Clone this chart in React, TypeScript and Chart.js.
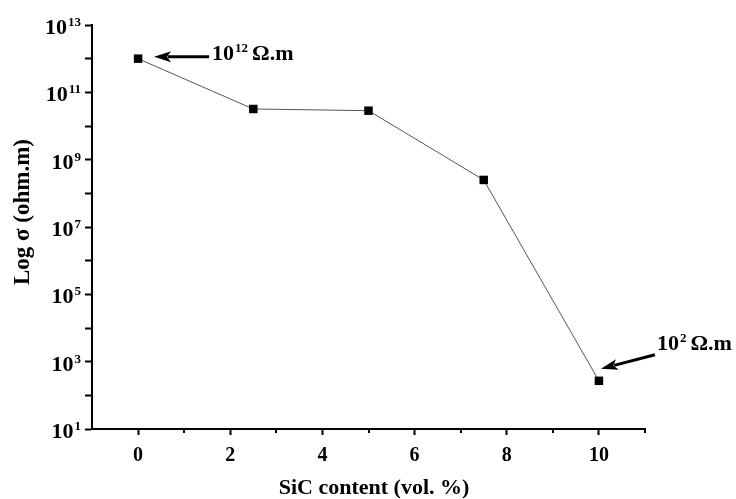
import React, { useEffect, useRef } from 'react';
import { Chart, registerables } from 'chart.js';

Chart.register(...registerables);

const sicContent = [0, 2.5, 5, 7.5, 10];
const resistivity = [1e12, 3.2e10, 2.85e10, 2.5e8, 270];
const xLabelValues = [0, 2, 4, 6, 8, 10];
const xMinorValues = [1, 3, 5, 7, 9, 11];
const yDecadeExponents = [1, 2, 3, 4, 5, 6, 7, 8, 9, 10, 11, 12, 13];
const yLabelExponents = [1, 3, 5, 7, 9, 11, 13];
const xTitle = 'SiC content (vol. %)';
const yTitle = 'Log σ (ohm.m)';
const noteBase = ['10', '10'];
const noteExp = ['12', '2'];
const noteUnit = ['Ω.m', 'Ω.m'];
const notePoint = [0, 4];

const FONT = '"Liberation Serif", "Times New Roman", serif';

function drawArrow(ctx: CanvasRenderingContext2D, x1: number, y1: number, x2: number, y2: number) {
  const ang = Math.atan2(y2 - y1, x2 - x1);
  const headLen = 17;
  const headW = 5.5;
  const cos = Math.cos(ang);
  const sin = Math.sin(ang);
  ctx.save();
  ctx.strokeStyle = '#000';
  ctx.fillStyle = '#000';
  ctx.lineWidth = 3;
  ctx.beginPath();
  ctx.moveTo(x1, y1);
  ctx.lineTo(x2 - cos * headLen * 0.8, y2 - sin * headLen * 0.8);
  ctx.stroke();
  const bx = x2 - cos * headLen;
  const by = y2 - sin * headLen;
  const nx = x2 - cos * headLen * 0.75;
  const ny = y2 - sin * headLen * 0.75;
  ctx.beginPath();
  ctx.moveTo(x2, y2);
  ctx.lineTo(bx - sin * headW, by + cos * headW);
  ctx.lineTo(nx, ny);
  ctx.lineTo(bx + sin * headW, by - cos * headW);
  ctx.closePath();
  ctx.fill();
  ctx.restore();
}

const overlay = {
  id: 'overlay',
  afterDraw(chart: any) {
    const ctx: CanvasRenderingContext2D = chart.ctx;
    const xs = chart.scales.x;
    const ys = chart.scales.y;
    const area = chart.chartArea;
    ctx.save();
    ctx.fillStyle = '#000';
    ctx.strokeStyle = '#000';

    // minor x ticks
    ctx.lineWidth = 2;
    for (const v of xMinorValues) {
      const px = Math.round(xs.getPixelForValue(v));
      ctx.beginPath();
      ctx.moveTo(px, area.bottom);
      ctx.lineTo(px, area.bottom + 4);
      ctx.stroke();
    }

    // y labels with superscripts
    for (const e of yLabelExponents) {
      const py = ys.getPixelForValue(Math.pow(10, e));
      const exp = String(e);
      ctx.font = `bold 13px ${FONT}`;
      const w2 = ctx.measureText(exp).width;
      ctx.font = `bold 22px ${FONT}`;
      const w1 = ctx.measureText('10').width;
      const right = 81;
      ctx.textAlign = 'left';
      ctx.textBaseline = 'alphabetic';
      ctx.fillText('10', right - w2 - 1 - w1, py + 9);
      ctx.font = `bold 13px ${FONT}`;
      ctx.fillText(exp, right - w2, py + 1);
    }

    // axis titles
    ctx.textAlign = 'center';
    ctx.textBaseline = 'middle';
    ctx.font = `bold 22px ${FONT}`;
    ctx.fillText(xTitle, 374, 488);
    ctx.save();
    ctx.translate(23, 212);
    ctx.rotate(-Math.PI / 2);
    ctx.font = `bold 23px ${FONT}`;
    ctx.fillText(yTitle, 0, 0);
    ctx.restore();

    // annotations
    const meta = chart.getDatasetMeta(0);
    const offsets = [
      { tail: [71, -2], tip: [16, -2], text: [74, 1] },
      { tail: [56, -26], tip: [2, -12], text: [58, -31] },
    ];
    notePoint.forEach((idx, i) => {
      const el = meta.data[idx];
      const o = offsets[i];
      drawArrow(ctx, el.x + o.tail[0], el.y + o.tail[1], el.x + o.tip[0], el.y + o.tip[1]);
      let tx = el.x + o.text[0];
      const ty = el.y + o.text[1];
      ctx.textAlign = 'left';
      ctx.textBaseline = 'alphabetic';
      ctx.font = `bold 22px ${FONT}`;
      ctx.fillText(noteBase[i], tx, ty);
      tx += ctx.measureText(noteBase[i]).width + 1;
      ctx.font = `bold 13px ${FONT}`;
      ctx.fillText(noteExp[i], tx, ty - 8);
      tx += ctx.measureText(noteExp[i]).width + 4;
      ctx.font = `bold 22px ${FONT}`;
      ctx.fillText(noteUnit[i], tx, ty);
    });
    ctx.restore();
  },
};

export default function App() {
  const ref = useRef<HTMLCanvasElement>(null);
  useEffect(() => {
    if (!ref.current) return;
    const chart = new Chart(ref.current, {
      type: 'line',
      data: {
        datasets: [
          {
            data: sicContent.map((x, i) => ({ x, y: resistivity[i] })),
            borderColor: '#555',
            borderWidth: 1,
            pointStyle: 'rect',
            pointRadius: 6,
            pointHoverRadius: 6,
            pointBackgroundColor: '#000',
            pointBorderColor: '#000',
            pointBorderWidth: 0,
            tension: 0,
          },
        ],
      },
      options: {
        animation: false,
        responsive: false,
        devicePixelRatio: 1,
        layout: { padding: { top: 25, right: 91, left: 0, bottom: 0 } },
        plugins: { legend: { display: false }, tooltip: { enabled: false }, title: { display: false } },
        scales: {
          x: {
            type: 'linear',
            min: -1,
            max: 11,
            afterBuildTicks: (s: any) => {
              s.ticks = xLabelValues.map((v) => ({ value: v }));
            },
            afterFit: (s: any) => {
              s.height = 70;
            },
            grid: { drawOnChartArea: false, drawTicks: true, tickLength: 6, tickColor: '#000', tickWidth: 2 },
            border: { display: true, color: '#000', width: 2 },
            ticks: {
              color: '#000',
              font: { family: FONT, size: 20, weight: 'bold' },
              padding: 9,
              maxRotation: 0,
              autoSkip: false,
              callback: (v: any) => String(v),
            },
          },
          y: {
            type: 'logarithmic',
            min: 10,
            max: 1e13,
            afterBuildTicks: (s: any) => {
              s.ticks = yDecadeExponents.map((e) => ({ value: Math.pow(10, e) }));
            },
            afterFit: (s: any) => {
              s.width = 92;
            },
            grid: { drawOnChartArea: false, drawTicks: true, tickLength: 7, tickColor: '#000', tickWidth: 2 },
            border: { display: true, color: '#000', width: 2 },
            ticks: { display: true, autoSkip: false, callback: () => '' },
          },
        },
      } as any,
      plugins: [overlay],
    });
    return () => chart.destroy();
  }, []);
  return (
    <div style={{ position: 'absolute', left: 0, top: 0, width: 736, height: 499, background: '#fff' }}>
      <canvas ref={ref} width={736} height={499} style={{ width: 736, height: 499 }} />
    </div>
  );
}
